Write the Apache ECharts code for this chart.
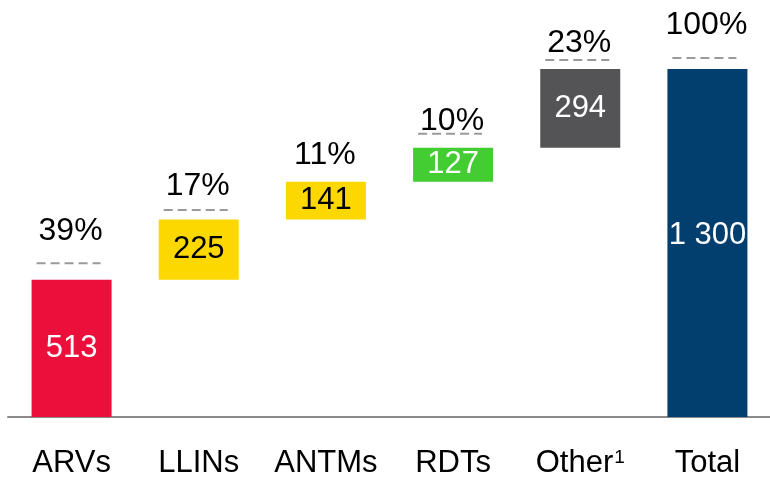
<!DOCTYPE html>
<html>
<head>
<meta charset="utf-8">
<script src="https://cdn.jsdelivr.net/npm/echarts@6/dist/echarts.min.js"></script>
<style>html,body{margin:0;padding:0;background:#fff;}#c{width:770px;height:479px;}</style>
</head>
<body>
<div id="c"></div>
<script>
const categories = ['ARVs', 'LLINs', 'ANTMs', 'RDTs', 'Other1', 'Total'];
const footnoted = [false, false, false, false, true, false];
const values = [513, 225, 141, 127, 294, 1300];
const shares = ['39%', '17%', '11%', '10%', '23%', '100%'];
const isTotal = [false, false, false, false, false, true];

const FONT = "'Liberation Sans', Arial, sans-serif";
const barColors = ['#EC0F3C', '#FCD800', '#FCD800', '#44CC33', '#545456', '#023F6E'];
const labelColors = ['#fff', '#000', '#000', '#fff', '#fff', '#fff'];
// styling per bar: label lift above bar top, dash lift (null = no dash)
const labelLift = [49, 33, 27, 27, 26, 44];
const dashLift = [16.5, 9.5, null, 14, 9, 11];

// waterfall bases from running totals
const bases = [];
let run = 0;
values.forEach((v, i) => {
  if (isTotal[i]) { bases.push(0); } else { bases.push(run); run += v; }
});
const tops = values.map((v, i) => bases[i] + v);

function fmt(v) { return String(v).replace(/\B(?=(\d{3})+(?!\d))/g, ' '); }

const chart = echarts.init(document.getElementById('c'));
chart.setOption({
  animation: false,
  backgroundColor: '#fff',
  grid: { left: 8, width: 763, top: 69, bottom: 62, containLabel: false, outerBoundsMode: 'none' },
  xAxis: {
    type: 'category',
    data: categories,
    axisLine: { lineStyle: { color: '#8a8a8a', width: 2 } },
    axisTick: { show: false },
    axisLabel: {
      interval: 0, fontSize: 31, color: '#000', fontFamily: FONT, margin: 30,
      formatter: function (v, i) {
        return footnoted[i] ? '{b|' + v.slice(0, -1) + '}{sup|' + v.slice(-1) + '}' : '{b|' + v + '}';
      },
      rich: {
        b: { fontSize: 31, fontFamily: FONT, color: '#000', lineHeight: 32, verticalAlign: 'bottom' },
        sup: { fontSize: 19, fontFamily: FONT, color: '#000', lineHeight: 19, verticalAlign: 'top', padding: [1, 0, 0, 1] }
      }
    }
  },
  yAxis: { type: 'value', min: 0, max: 1300, show: false, splitLine: { show: false } },
  series: [
    {
      type: 'bar', stack: 'w', silent: true,
      itemStyle: { color: 'transparent' },
      data: bases
    },
    {
      type: 'bar', stack: 'w', barWidth: 80,
      data: values.map((v, i) => ({
        value: v,
        itemStyle: { color: barColors[i] },
        label: {
          show: true, position: 'inside', formatter: fmt(v),
          color: labelColors[i], fontSize: 31, fontFamily: FONT,
          offset: isTotal[i] ? [0, -8] : [0, 0]
        }
      }))
    },
    {
      type: 'custom',
      silent: true,
      data: tops.map((t, i) => [i, t]),
      encode: { x: 0, y: 1 },
      renderItem: function (params, api) {
        const i = api.value(0);
        const p = api.coord([i, api.value(1)]);
        const children = [];
        if (dashLift[i] !== null) {
          const y = p[1] - dashLift[i];
          children.push({
            type: 'line',
            shape: { x1: p[0] - 35, y1: y, x2: p[0] + 29, y2: y },
            style: { stroke: '#9a9a9a', lineWidth: 2, lineDash: [9, 5] }
          });
        }
        children.push({
          type: 'text',
          style: {
            text: shares[i], x: p[0] - 1, y: p[1] - labelLift[i],
            textAlign: 'center', textVerticalAlign: 'middle',
            font: '32px ' + FONT, fill: '#000'
          }
        });
        return { type: 'group', children: children };
      }
    }
  ]
});
</script>
</body>
</html>
